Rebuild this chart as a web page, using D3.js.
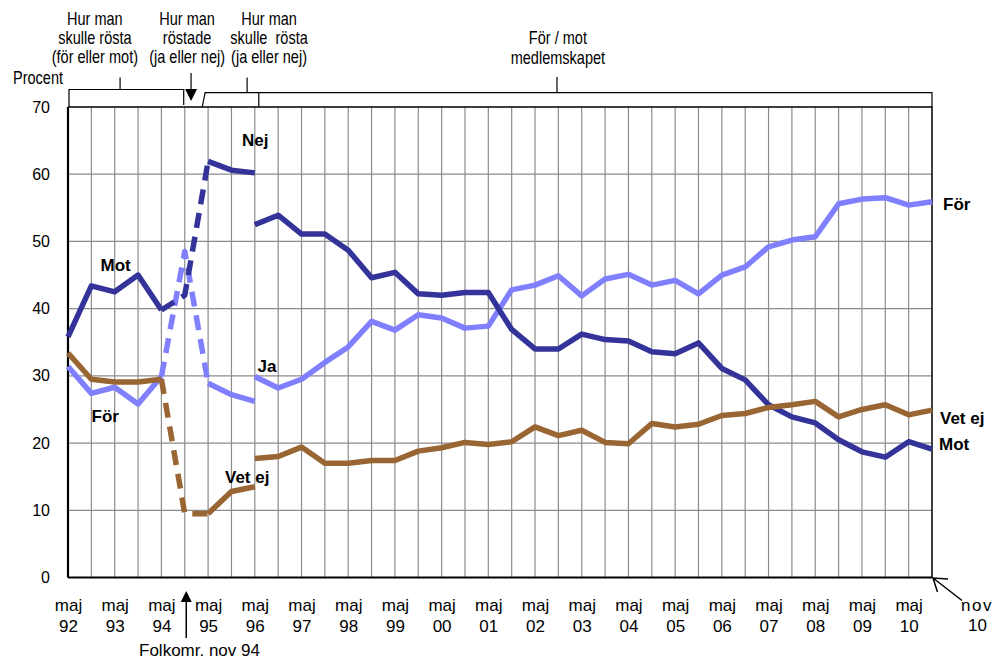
<!DOCTYPE html>
<html>
<head>
<meta charset="utf-8">
<script src="https://cdn.jsdelivr.net/npm/d3@7/dist/d3.min.js"></script>
<style>
  body { margin: 0; background: #fff; }
  svg { display: block; }
  text { font-family: "Liberation Sans", Arial, sans-serif; fill: #000; }
</style>
</head>
<body>
<div id="chart"></div>
<script>
// chart size, same as the picture
var svgWidth = 1003;
var svgHeight = 659;

var margin = { top: 107, right: 71, bottom: 81.5, left: 68 };
var width = svgWidth - margin.left - margin.right;
var height = svgHeight - margin.top - margin.bottom;

// halvårsmätningar maj 92 - nov 10
var periods = [
  "maj 92", "nov 92", "maj 93", "nov 93", "maj 94", "nov 94", "maj 95", "nov 95",
  "maj 96", "nov 96", "maj 97", "nov 97", "maj 98", "nov 98", "maj 99", "nov 99",
  "maj 00", "nov 00", "maj 01", "nov 01", "maj 02", "nov 02", "maj 03", "nov 03",
  "maj 04", "nov 04", "maj 05", "nov 05", "maj 06", "nov 06", "maj 07", "nov 07",
  "maj 08", "nov 08", "maj 09", "nov 09", "maj 10", "nov 10"
];
var yTicks = [0, 10, 20, 30, 40, 50, 60, 70];

// för / mot medlemskapet (null = ej frågat)
var forValues = [
  31.4, 27.4, 28.3, 25.8, 29.9, null, null, null,
  29.9, 28.2, 29.5, 32.0, 34.3, 38.1, 36.8, 39.1,
  38.6, 37.1, 37.4, 42.8, 43.5, 44.9, 41.9, 44.4,
  45.1, 43.5, 44.2, 42.2, 45.0, 46.2, 49.2, 50.2,
  50.7, 55.6, 56.3, 56.5, 55.4, 55.9
];
var motValues = [
  35.8, 43.4, 42.5, 45.0, 39.8, null, null, null,
  52.5, 53.9, 51.1, 51.1, 48.7, 44.6, 45.4, 42.2,
  42.0, 42.4, 42.4, 36.9, 34.0, 34.0, 36.2, 35.4,
  35.2, 33.6, 33.3, 34.9, 31.1, 29.4, 25.7, 23.9,
  23.0, 20.5, 18.7, 17.9, 20.2, 19.1
];
var vetEjValues = [
  33.4, 29.5, 29.1, 29.1, 29.5, null, null, null,
  17.7, 18.0, 19.4, 17.0, 17.0, 17.4, 17.4, 18.8,
  19.3, 20.1, 19.8, 20.2, 22.4, 21.1, 21.9, 20.1,
  19.9, 22.9, 22.4, 22.8, 24.1, 24.4, 25.3, 25.7,
  26.2, 23.9, 25.0, 25.7, 24.2, 24.9
];

// folkomröstningen nov 94 och ja/nej fram till maj 96
var jaNejPeriods = ["nov 94", "maj 95", "nov 95", "maj 96"];
var jaValues = [48.5, 28.9, 27.2, 26.2];
var nejValues = [42.0, 61.9, 60.6, 60.2];
var vetEjJaNej = [9.5, 9.5, 12.8, 13.5];

var colFor = "#8080ff";
var colMot = "#333399";
var colVetEj = "#996633";

var svg = d3.select("#chart")
  .append("svg")
  .attr("width", svgWidth)
  .attr("height", svgHeight);

var chartGroup = svg.append("g")
  .attr("transform", `translate(${margin.left}, ${margin.top})`);

// scales
var x = d3.scalePoint().domain(periods).range([0, width]);
var y = d3.scaleLinear().domain([0, 70]).range([height, 0]);
// fractional position along the time axis, for the notes above the chart
var xIdx = d3.scaleLinear().domain([0, periods.length - 1]).range([margin.left, margin.left + width]);

// grid
chartGroup.append("g")
  .selectAll("line")
  .data(periods.slice(1, -1))
  .join("line")
  .attr("x1", d => x(d))
  .attr("x2", d => x(d))
  .attr("y1", 0)
  .attr("y2", height)
  .attr("stroke", "#8c8c8c")
  .attr("stroke-width", 1.2);

chartGroup.append("g")
  .selectAll("line")
  .data(yTicks.slice(1, -1))
  .join("line")
  .attr("x1", 0)
  .attr("x2", width)
  .attr("y1", d => y(d))
  .attr("y2", d => y(d))
  .attr("stroke", "#8c8c8c")
  .attr("stroke-width", 1.2);

// frame top + right
chartGroup.append("path")
  .attr("d", `M0,${y(70)}H${width}V${height}`)
  .attr("fill", "none")
  .attr("stroke", "#000")
  .attr("stroke-width", 1.5);

// y axis
var leftAxis = d3.axisLeft(y).tickValues(yTicks).tickSize(0).tickPadding(18);
var yAxis = chartGroup.append("g").call(leftAxis);
yAxis.select(".domain").remove();
yAxis.selectAll("text")
  .style("font-family", "'Liberation Sans', Arial, sans-serif")
  .style("font-size", "16px")
  .attr("fill", "#000");

// x axis labels, two lines each
var majPeriods = periods.filter(p => p.startsWith("maj"));
var bottomAxis = d3.axisBottom(x).tickValues(majPeriods).tickSize(0).tickFormat("");
var xAxis = chartGroup.append("g")
  .attr("transform", `translate(0, ${height})`)
  .call(bottomAxis);
xAxis.select(".domain").remove();
xAxis.selectAll(".tick").each(function(d) {
  var parts = d.split(" ");
  var t = d3.select(this).append("text")
    .attr("text-anchor", "middle")
    .style("font-size", "17px");
  t.append("tspan").attr("x", 0).attr("y", 33).text(parts[0]);
  t.append("tspan").attr("x", 0).attr("y", 54).text(parts[1]);
});

// axis lines
chartGroup.append("line")
  .attr("x1", 0).attr("x2", 0).attr("y1", 0).attr("y2", height)
  .attr("stroke", "#000").attr("stroke-width", 2.2);
chartGroup.append("line")
  .attr("x1", 0).attr("x2", width).attr("y1", height).attr("y2", height)
  .attr("stroke", "#000").attr("stroke-width", 2);

// lines
var line = d3.line()
  .defined(d => d.v != null)
  .x(d => x(d.p))
  .y(d => y(d.v));

function pairs(ps, vs) {
  return ps.map((p, i) => ({ p: p, v: vs[i] }));
}

function drawLine(data, color, dashed) {
  chartGroup.append("path")
    .datum(data)
    .attr("d", line)
    .attr("fill", "none")
    .attr("stroke", color)
    .attr("stroke-width", 5.5)
    .attr("stroke-linejoin", "round")
    .attr("stroke-dasharray", dashed ? "15,9" : null);
}

var series = [
  { forMot: forValues, jaNej: jaValues, color: colFor },
  { forMot: motValues, jaNej: nejValues, color: colMot },
  { forMot: vetEjValues, jaNej: vetEjJaNej, color: colVetEj }
];

series.forEach(s => {
  drawLine(pairs(periods, s.forMot), s.color, false);
  drawLine(pairs(jaNejPeriods.slice(1), s.jaNej.slice(1)), s.color, false);
  // dashed jump around the referendum
  drawLine([{ p: "maj 94", v: s.forMot[4] }].concat(pairs(jaNejPeriods.slice(0, 2), s.jaNej.slice(0, 2))), s.color, true);
});

// series labels
var seriesLabels = [
  { text: "Mot", x: 100.5, y: 271 },
  { text: "Nej", x: 242, y: 146 },
  { text: "Ja", x: 257.5, y: 372 },
  { text: "För", x: 91.5, y: 422 },
  { text: "Vet ej", x: 225, y: 483 },
  { text: "För", x: 943, y: 210 },
  { text: "Vet ej", x: 940, y: 424 },
  { text: "Mot", x: 939, y: 450 }
];
svg.append("g")
  .selectAll("text")
  .data(seriesLabels)
  .join("text")
  .attr("x", d => d.x)
  .attr("y", d => d.y)
  .style("font-size", "17px")
  .style("font-weight", "bold")
  .text(d => d.text);

// notes above the chart (narrow look: squeeze regular font sideways)
var noteSize = "17.5px";
var squeeze = 0.83;
var notes = [
  { at: 1.15, lines: ["Hur man", "skulle rösta", "(för eller mot)"], y0: 25 },
  { at: 5.1, lines: ["Hur man", "röstade", "(ja eller nej)"], y0: 25 },
  { at: 8.61, lines: ["Hur man", "skulle  rösta", "(ja eller nej)"], y0: 25 },
  { at: 20.98, lines: ["För / mot", "medlemskapet"], y0: 44.5 }
];
notes.forEach(n => {
  var t = svg.append("text")
    .attr("transform", `translate(${xIdx(n.at)},0) scale(${squeeze},1)`)
    .attr("text-anchor", "middle")
    .style("font-size", noteSize)
    .style("white-space", "pre");
  n.lines.forEach((l, i) => {
    t.append("tspan").attr("x", 0).attr("y", n.y0 + i * 19.2).text(l);
  });
});

svg.append("text")
  .attr("transform", `translate(13,0) scale(${squeeze},1)`)
  .attr("x", 0)
  .attr("y", 84)
  .style("font-size", noteSize)
  .text("Procent");

// brackets
var bracketY1 = 89.5;
var bracketY2 = 92.7;
var plotTop = margin.top;
var brackets = svg.append("g")
  .attr("fill", "none")
  .attr("stroke", "#000")
  .attr("stroke-width", 1.2);
brackets.append("path")
  .attr("d", `M${xIdx(0) + 1},${plotTop}V${bracketY1}H${xIdx(4.955)}V${plotTop - 2}`);
brackets.append("path")
  .attr("d", `M${xIdx(2.23)},${bracketY1}V77.5`);
brackets.append("path")
  .attr("d", `M${xIdx(5.75)},${plotTop}L${xIdx(5.87)},${bracketY2}H${xIdx(37)}V${plotTop}`);
brackets.append("path")
  .attr("d", `M${xIdx(8.17)},${plotTop}V${bracketY2}`);
brackets.append("path")
  .attr("d", `M${xIdx(7.67)},${bracketY2}V77.5`);
brackets.append("path")
  .attr("d", `M${xIdx(20.94)},${bracketY2}V77`);

// arrow down to the referendum
var ax = xIdx(5.27);
brackets.append("path").attr("d", `M${ax},73V92`);
svg.append("path")
  .attr("d", `M${ax - 6},89L${ax + 6},89L${ax},101Z`)
  .attr("fill", "#000");

// arrow up from "Folkomr. nov 94"
var bx = margin.left + x("nov 94") + 1.5;
svg.append("path")
  .attr("d", `M${bx},600V638`)
  .attr("stroke", "#000")
  .attr("stroke-width", 1.5);
svg.append("path")
  .attr("d", `M${bx - 5.5},602L${bx + 5.5},602L${bx},591Z`)
  .attr("fill", "#000");
svg.append("text")
  .attr("x", 199.5)
  .attr("y", 656)
  .attr("text-anchor", "middle")
  .style("font-size", "17px")
  .text("Folkomr. nov 94");

// nov 10 label with arrow to the last point
var cx = margin.left + x("nov 10");
var cy = margin.top + height;
var nov = svg.append("text")
  .attr("text-anchor", "middle")
  .style("font-size", "17px");
nov.append("tspan").attr("x", 977).attr("y", 611).style("letter-spacing", "1.5px").text("nov");
nov.append("tspan").attr("x", 977.5).attr("y", 631).text("10");
svg.append("path")
  .attr("d", `M962,600.5L${cx + 1},${cy + 0.5}M${cx + 16},${cy + 1.5}L${cx + 1},${cy + 0.5}L${cx + 5.5},${cy + 14.5}`)
  .attr("fill", "none")
  .attr("stroke", "#000")
  .attr("stroke-width", 1.5);
</script>
</body>
</html>
